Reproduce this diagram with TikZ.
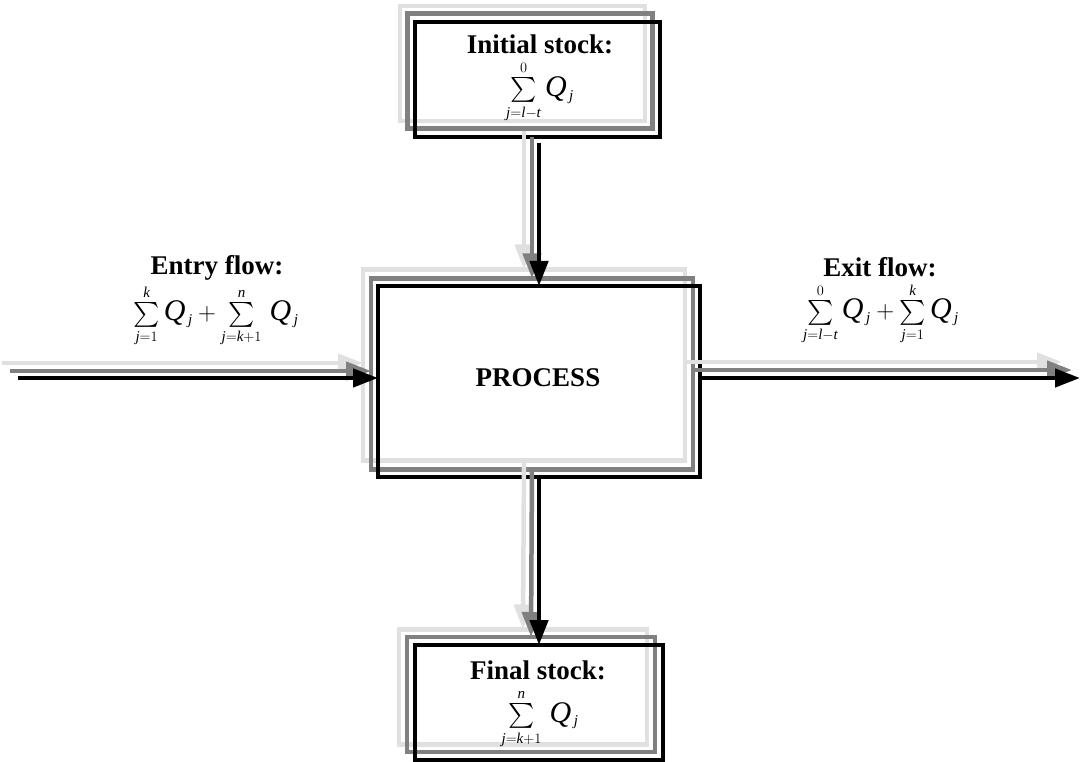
\documentclass[tikz,border=0pt]{standalone}
\usepackage{exscale}
\usepackage{fontspec}
\setmainfont{Liberation Serif}
\usetikzlibrary{arrows.meta,calc}
\def\defaultscriptratio{.5}
\def\defaultscriptscriptratio{.4}
\newcommand\qj{\mathit{Q}_{\,\mathit{j}}}
\begin{document}
\begin{tikzpicture}[x=1pt,y=-1pt,
  box/.style={draw,rectangle,line width=4.5pt,inner sep=0pt,outer sep=0pt},
  blk/.style={draw=black},
  gr/.style={draw=gray50},
  lt/.style={draw=gray88},
  flow/.style={line width=4.5pt,-{Triangle[length=25pt,width=18pt]}},
  ttl/.style={font=\fontsize{27}{30}\selectfont\bfseries,inner sep=0pt},
  mth/.style={font=\fontsize{30}{36}\selectfont,inner sep=0pt}]
\definecolor{gray50}{RGB}{128,128,128}
\definecolor{gray88}{RGB}{224,224,224}
\useasboundingbox (0,0) rectangle (1082,762);
% boxes: light, gray, black
\node[box,lt,minimum width=245pt,minimum height=115pt] (initL) at (522.5,63.5) {};
\node[box,gr,minimum width=245pt,minimum height=115pt] (initG) at (530,71) {};
\node[box,blk,minimum width=245pt,minimum height=115pt] (initB) at (537.5,79.5) {};
\node[box,lt,minimum width=322pt,minimum height=191pt] (procL) at (524,365) {};
\node[box,gr,minimum width=322pt,minimum height=191pt] (procG) at (532,374) {};
\node[box,blk,minimum width=322pt,minimum height=191pt] (procB) at (539,381.5) {};
\node[box,lt,minimum width=248pt,minimum height=115pt] (finL) at (523,687) {};
\node[box,gr,minimum width=248pt,minimum height=115pt] (finG) at (531,694.5) {};
\node[box,blk,minimum width=248pt,minimum height=115pt] (finB) at (539,702.5) {};
% free ends
\coordinate (inL) at (2,363);
\coordinate (inG) at (10,371);
\coordinate (inB) at (18,378);
\coordinate (outL) at (1062,362);
\coordinate (outG) at (1072,370);
\coordinate (outB) at (1080,378);
% arrows light
\draw[flow,gray88] ($(initL.south -| procL.north)+(0,10)$) -- (procL.north);
\draw[flow,gray88] (procL.south) -- (finL.north);
\draw[flow,gray88] (inL) -- (inL -| procL.west);
\draw[flow,gray88] (outL -| procL.east) -- (outL);
% arrows gray
\draw[flow,gray50] ($(initG.south -| procG.north)+(0,9)$) -- (procG.north);
\draw[flow,gray50] (procG.south) -- (finG.north);
\draw[flow,gray50] (inG) -- (inG -| procG.west);
\draw[flow,gray50] (outG -| procG.east) -- (outG);
% arrows black
\draw[flow,black] ($(initB.south -| procB.north)+(0,6)$) -- (procB.north);
\draw[flow,black] (procB.south) -- (finB.north);
\draw[flow,black] (inB) -- (inB -| procB.west);
\draw[flow,black] (outB -| procB.east) -- (outB);
% texts
\node[ttl] (initT) at (540,44) {Initial stock:};
\node[mth] (initM) at (540,92) {$\sum\limits_{\mathit{j}=\mathit{l}-\mathit{t}}^{0}\qj$};
\node[ttl] (procT) at (538,378) {PROCESS};
\node[ttl] (finT) at (538,670) {Final stock:};
\node[mth] (finM) at (540,719) {$\sum\limits_{\mathit{j}=\mathit{k}+1}^{\mathit{n}}\,\qj$};
\node[ttl] (entT) at (217,268) {Entry flow:};
\node[mth] (entM) at (216,316) {$\sum\limits_{\mathit{j}=1}^{\mathit{k}}\qj+\sum\limits_{\mathit{j}=\mathit{k}+1}^{\mathit{n}}\,\qj$};
\node[ttl] (exT) at (880,267) {Exit flow:};
\node[mth] (exM) at (881,314) {$\sum\limits_{\mathit{j}=\mathit{l}-\mathit{t}}^{0}\qj+\sum\limits_{\mathit{j}=1}^{\mathit{k}}\qj$};
\end{tikzpicture}
\end{document}
